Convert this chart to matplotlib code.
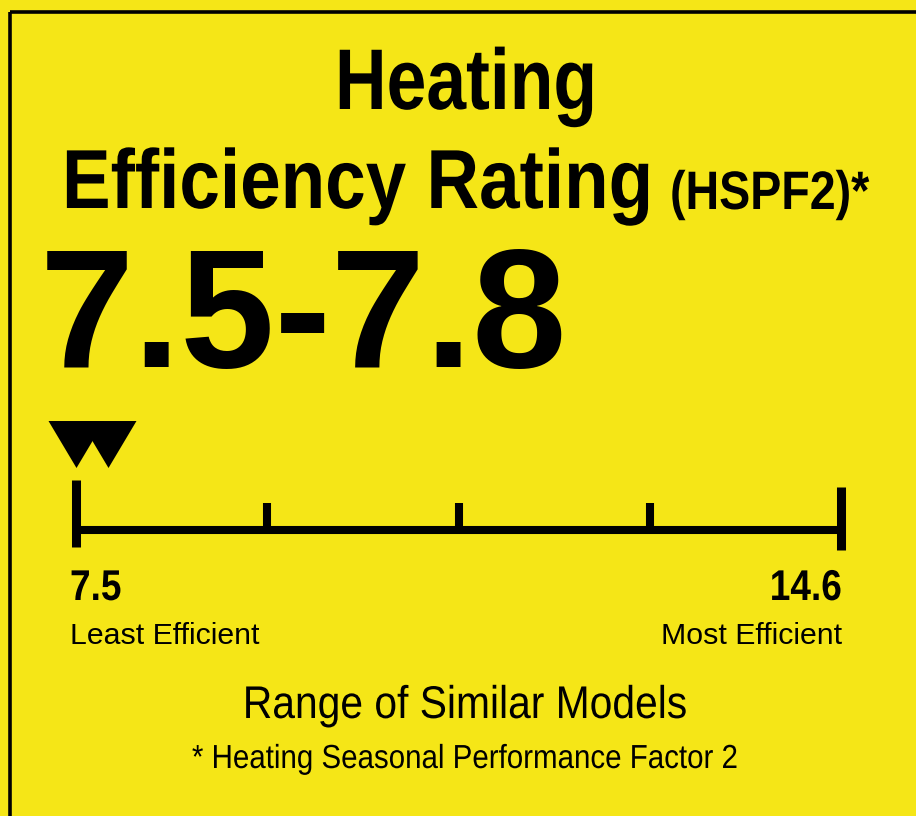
import matplotlib
matplotlib.use('Agg')
import matplotlib.pyplot as plt
import matplotlib.patheffects as pe
from matplotlib.text import Text
from matplotlib.transforms import Affine2D, Bbox
import numpy as np

# label values
title_top = 'Heating'
title_main = 'Efficiency Rating'
title_unit = '(HSPF2)*'
rating_low = 7.5
rating_high = 7.8
scale_min = 7.5
scale_max = 14.6
n_intervals = 4
least_label = 'Least Efficient'
most_label = 'Most Efficient'
range_label = 'Range of Similar Models'
footnote = '* Heating Seasonal Performance Factor 2'

yellow = '#f5e617'
W, H = 916, 816
font = 'Liberation Sans'


class Squeeze(pe.AbstractPathEffect):
    # narrows the glyphs horizontally, the label uses a condensed face
    def __init__(self, sx, ha='left'):
        super().__init__()
        self.sx = sx
        self.ha = ha

    def draw_path(self, renderer, gc, tpath, affine, rgbFace=None):
        ext = tpath.get_extents()
        px = {'left': 0, 'center': (ext.x0 + ext.x1) / 2, 'right': ext.x1}[self.ha]
        t = Affine2D().translate(-px, 0).scale(self.sx, 1).translate(px, 0)
        renderer.draw_path(gc, tpath, t + affine, rgbFace)


class NarrowText(Text):
    # text whose extent follows the squeezed glyphs
    def __init__(self, *args, sx=1.0, **kwargs):
        super().__init__(*args, **kwargs)
        self.sx = sx
        if sx != 1.0:
            self.set_path_effects([Squeeze(sx, self.get_horizontalalignment())])

    def get_window_extent(self, renderer=None, dpi=None):
        bb = super().get_window_extent(renderer, dpi)
        if self.sx == 1.0:
            return bb
        ha = self.get_horizontalalignment()
        p = {'left': bb.x0, 'center': (bb.x0 + bb.x1) / 2, 'right': bb.x1}[ha]
        return Bbox.from_extents(p + (bb.x0 - p) * self.sx, bb.y0,
                                 p + (bb.x1 - p) * self.sx, bb.y1)


def label(ax, x, y, s, size, sx=1.0, ha='left', bold=False):
    txt = NarrowText(x, y, s, sx=sx, family=font,
                     weight='bold' if bold else 'normal',
                     fontsize=size, ha=ha, va='baseline')
    ax.add_artist(txt)
    return txt


fig = plt.figure(figsize=(W / 100, H / 100), dpi=100, facecolor=yellow)

# whole-figure axes in pixel units for text and border
ax = fig.add_axes([0, 0, 1, 1])
ax.set_xlim(0, W)
ax.set_ylim(H, 0)
ax.axis('off')

ax.plot([9.5, W], [12, 12], color='black', lw=2.6, solid_capstyle='butt')
ax.plot([9.5, 9.5], [12, H], color='black', lw=2.6, solid_capstyle='butt')

label(ax, 466, 109, title_top, 62, sx=0.83, ha='center', bold=True)
label(ax, 62, 208, title_main, 60.3, sx=0.87, bold=True)
label(ax, 670, 209, title_unit, 39, sx=0.86, bold=True)
label(ax, 40, 367, f'{rating_low}-{rating_high}', 122, bold=True)

label(ax, 70, 600, f'{scale_min}', 31, sx=0.86, bold=True)
label(ax, 842, 600, f'{scale_max}', 31, sx=0.86, ha='right', bold=True)
label(ax, 70, 644, least_label, 21.8)
label(ax, 842, 644, most_label, 21.8, ha='right')
label(ax, 465, 718, range_label, 33, sx=0.89, ha='center')
label(ax, 465, 768, footnote, 24, sx=0.885, ha='center')

# scale axes: x in rating units, y in pixels
x0, x1 = 76, 841
y0, y1 = 400, 560
sax = fig.add_axes([x0 / W, (H - y1) / H, (x1 - x0) / W, (y1 - y0) / H])
sax.set_xlim(scale_min, scale_max)
sax.set_ylim(y1, y0)
sax.axis('off')
sax.patch.set_alpha(0)

line_y = 530
sax.plot([scale_min, scale_max], [line_y, line_y], color='black', lw=5.8,
         solid_capstyle='butt', clip_on=False)
sax.plot([scale_min, scale_min], [480, 547], color='black', lw=6.5,
         solid_capstyle='butt', clip_on=False)
sax.plot([scale_max, scale_max], [487, 550], color='black', lw=6.5,
         solid_capstyle='butt', clip_on=False)
minor = np.linspace(scale_min, scale_max, n_intervals + 1)[1:-1]
for xv in minor:
    sax.plot([xv, xv], [503, line_y], color='black', lw=5.8,
             solid_capstyle='butt', clip_on=False)

tri = [(-28, 23.5), (28, 23.5), (0, -23.5), (-28, 23.5)]
sax.plot([rating_low, rating_high], [443.5, 443.5], linestyle='none',
         marker=tri, markersize=40.3, color='black', markeredgewidth=0,
         clip_on=False)

fig.savefig('out.png', dpi=100, facecolor=yellow)
